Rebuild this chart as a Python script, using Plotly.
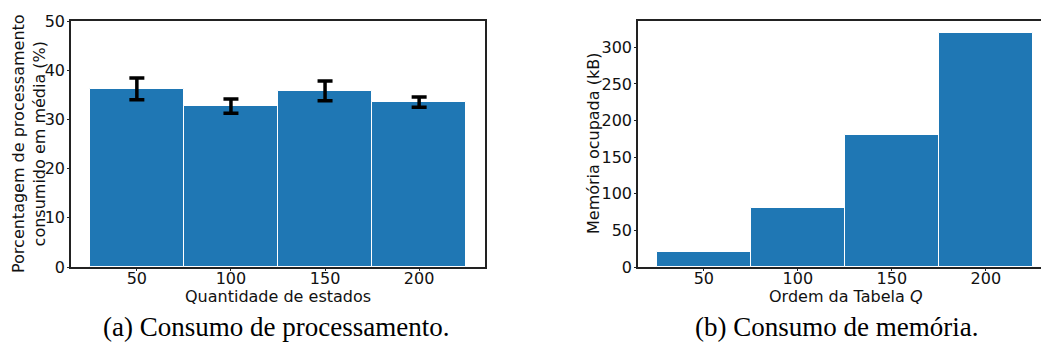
import plotly.graph_objects as go

# Data
states = [50, 100, 150, 200]
cpu_mean = [36.2, 32.7, 35.8, 33.5]
cpu_err = [2.2, 1.45, 2.0, 1.05]
q_order = [50, 100, 150, 200]
mem_kb = [20, 80, 180, 320]

W, H = 1041, 347
BLUE = "#1f77b4"
FONT = "DejaVu Sans"
FS = 16
TXT = "#111"

def px_x(p):
    return p / W

def px_y(p):
    return 1 - p / H

fig = go.Figure()
fig.add_trace(go.Bar(
    x=states, y=cpu_mean, width=50,
    marker=dict(color=BLUE, line=dict(color="white", width=1)),
    error_y=dict(type="data", array=cpu_err, visible=True, color="black", thickness=3.5, width=7.5),
    xaxis="x", yaxis="y", showlegend=False,
))
fig.add_trace(go.Bar(
    x=q_order, y=mem_kb, width=50,
    marker=dict(color=BLUE, line=dict(color="white", width=1)),
    xaxis="x2", yaxis="y2", showlegend=False,
))

ydom = [px_y(267), px_y(21)]
axis_common = dict(
    showgrid=False, zeroline=False, showline=True, linecolor="#222", linewidth=1.5,
    ticks="outside", ticklen=2, tickwidth=1, tickcolor="#222", automargin=False,
    tickfont=dict(family=FONT, size=FS, color=TXT),
)
xa = dict(ticklabelstandoff=-6, **axis_common)
ya = dict(ticklabelstandoff=-1, **axis_common)

fig.update_layout(
    width=W, height=H,
    margin=dict(l=0, r=0, t=0, b=0, autoexpand=False),
    paper_bgcolor="white", plot_bgcolor="white",
    bargap=0,
    xaxis=dict(domain=[px_x(71), px_x(485)], range=[15, 235], anchor="y",
               tickvals=states, mirror=True, **xa),
    yaxis=dict(domain=ydom, range=[0, 50], anchor="x",
               tickvals=[0, 10, 20, 30, 40, 50], mirror=True, **ya),
    xaxis2=dict(domain=[px_x(638), 1.0], range=[15, 15 + (1041 - 638) / 376 * 200], anchor="y2",
                tickvals=q_order, mirror=True, **xa),
    yaxis2=dict(domain=ydom, range=[0, 336], anchor="x2",
                tickvals=[0, 50, 100, 150, 200, 250, 300], mirror=False, **ya),
)

ann = [
    dict(text="Porcentagem de processamento<br>consumido em média (%)", x=px_x(29), y=px_y(144),
         textangle=-90, font=dict(family=FONT, size=FS, color=TXT)),
    dict(text="Quantidade de estados", x=px_x(278), y=px_y(296),
         font=dict(family=FONT, size=FS, color=TXT)),
    dict(text="Memória ocupada (kB)", x=px_x(594), y=px_y(144),
         textangle=-90, font=dict(family=FONT, size=FS, color=TXT)),
    dict(text="Ordem da Tabela <i>Q</i>", x=px_x(845), y=px_y(296),
         font=dict(family=FONT, size=FS, color=TXT)),
    dict(text="(a) Consumo de processamento.", x=px_x(275.5), y=px_y(327),
         font=dict(family="Liberation Serif", size=27, color="black")),
    dict(text="(b) Consumo de memória.", x=px_x(836), y=px_y(327),
         font=dict(family="Liberation Serif", size=27, color="black")),
]
for a in ann:
    a.update(xref="paper", yref="paper", showarrow=False, xanchor="center", yanchor="middle")
fig.update_layout(annotations=ann)

fig.write_html("out.html", config={"displayModeBar": False},
               post_script="document.body.style.margin='0';document.body.style.overflow='hidden';")
